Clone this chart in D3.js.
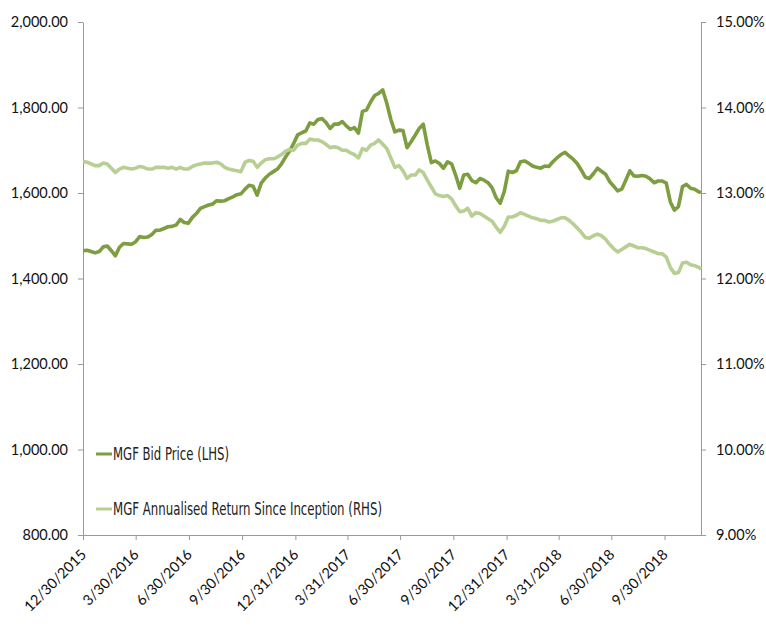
<!DOCTYPE html>
<html><head><meta charset="utf-8">
<script src="https://cdn.jsdelivr.net/npm/d3@7"></script>
<style>
body{margin:0;background:#fff;}
svg{display:block;}
.tick text{font-family:Lato,"Open Sans",sans-serif;font-size:14.5px;fill:#111;}
</style></head>
<body><svg id="c" width="766" height="627"></svg>
<script>
const dates = ["2015-12-30",
"2016-01-06","2016-01-13","2016-01-20","2016-01-27","2016-02-03","2016-02-10","2016-02-17","2016-02-24",
"2016-03-02","2016-03-09","2016-03-16","2016-03-23","2016-03-30","2016-04-06","2016-04-13","2016-04-20","2016-04-27",
"2016-05-04","2016-05-11","2016-05-18","2016-05-25","2016-06-01","2016-06-08","2016-06-15","2016-06-22","2016-06-29",
"2016-07-06","2016-07-13","2016-07-20","2016-07-27","2016-08-03","2016-08-10","2016-08-17","2016-08-24","2016-08-31",
"2016-09-07","2016-09-14","2016-09-21","2016-09-28","2016-10-05","2016-10-12","2016-10-19","2016-10-26",
"2016-11-02","2016-11-09","2016-11-16","2016-11-23","2016-11-30","2016-12-07","2016-12-14","2016-12-21","2016-12-28",
"2017-01-04","2017-01-11","2017-01-18","2017-01-25","2017-02-01","2017-02-08","2017-02-15","2017-02-22",
"2017-03-01","2017-03-08","2017-03-15","2017-03-22","2017-03-29","2017-04-05","2017-04-12","2017-04-19","2017-04-26",
"2017-05-03","2017-05-10","2017-05-17","2017-05-24","2017-05-31","2017-06-07","2017-06-14","2017-06-21","2017-06-28",
"2017-07-05","2017-07-12","2017-07-19","2017-07-26","2017-08-02","2017-08-09","2017-08-16","2017-08-23","2017-08-30",
"2017-09-06","2017-09-13","2017-09-20","2017-09-27","2017-10-04","2017-10-11","2017-10-18","2017-10-25",
"2017-11-01","2017-11-08","2017-11-15","2017-11-22","2017-11-29","2017-12-06","2017-12-13","2017-12-20","2017-12-27",
"2018-01-03","2018-01-10","2018-01-17","2018-01-24","2018-01-31","2018-02-07","2018-02-14","2018-02-21","2018-02-28",
"2018-03-07","2018-03-14","2018-03-21","2018-03-28","2018-04-04","2018-04-11","2018-04-18","2018-04-25",
"2018-05-02","2018-05-09","2018-05-16","2018-05-23","2018-05-30","2018-06-06","2018-06-13","2018-06-20","2018-06-27",
"2018-07-04","2018-07-11","2018-07-18","2018-07-25","2018-08-01","2018-08-08","2018-08-15","2018-08-22","2018-08-29",
"2018-09-05","2018-09-12","2018-09-19","2018-09-26","2018-10-03","2018-10-10","2018-10-17","2018-10-24","2018-10-31",
"2018-11-07","2018-11-14","2018-11-21","2018-11-28","2018-12-02"];

const bidPrice = [1465,1466,1463,1460,1463,1474,1476,1465,1453,1473,
1482,1481,1480,1486,1498,1496,1497,1503,1513,1513,
1517,1521,1522,1525,1538,1531,1529,1543,1552,1564,
1568,1572,1574,1582,1581,1582,1587,1591,1596,1598,
1609,1618,1616,1595,1623,1635,1644,1650,1656,1668,
1684,1698,1716,1736,1741,1745,1764,1761,1772,1774,
1765,1751,1761,1761,1767,1757,1749,1753,1740,1791,
1794,1813,1828,1833,1841,1810,1772,1743,1747,1746,
1706,1720,1735,1751,1761,1712,1671,1675,1669,1658,
1673,1668,1642,1611,1642,1644,1629,1624,1634,1630,
1624,1612,1589,1576,1603,1651,1648,1652,1673,1675,
1670,1663,1660,1658,1663,1662,1673,1682,1690,1695,
1687,1679,1669,1654,1637,1634,1645,1658,1651,1644,
1627,1616,1605,1609,1630,1652,1640,1639,1641,1639,
1633,1624,1628,1628,1623,1579,1560,1568,1615,1620,
1611,1609,1603,1601];

const annualisedReturn = [13.37,13.36,13.34,13.32,13.32,13.35,13.34,13.29,13.24,13.28,
13.30,13.29,13.28,13.29,13.31,13.30,13.28,13.28,13.30,13.30,
13.30,13.29,13.30,13.28,13.30,13.28,13.28,13.31,13.33,13.34,
13.35,13.35,13.35,13.36,13.34,13.30,13.28,13.27,13.26,13.25,
13.36,13.38,13.37,13.30,13.35,13.39,13.40,13.40,13.42,13.45,
13.49,13.51,13.50,13.56,13.58,13.58,13.63,13.62,13.62,13.60,
13.57,13.53,13.54,13.53,13.50,13.50,13.47,13.45,13.41,13.52,
13.50,13.56,13.58,13.62,13.57,13.52,13.41,13.30,13.32,13.26,
13.17,13.21,13.21,13.27,13.24,13.15,13.07,12.99,12.97,12.96,
12.97,12.93,12.85,12.78,12.79,12.82,12.73,12.77,12.76,12.73,
12.70,12.67,12.60,12.54,12.61,12.72,12.72,12.74,12.77,12.75,
12.73,12.71,12.70,12.68,12.68,12.66,12.67,12.69,12.71,12.71,
12.68,12.64,12.59,12.54,12.48,12.47,12.50,12.52,12.50,12.46,
12.40,12.35,12.31,12.34,12.37,12.40,12.38,12.36,12.36,12.35,
12.33,12.31,12.29,12.29,12.25,12.13,12.06,12.07,12.18,12.19,
12.16,12.15,12.13,12.11];

const xTickDates = ["2015-12-30","2016-03-30","2016-06-30","2016-09-30","2016-12-31","2017-03-31",
"2017-06-30","2017-09-30","2017-12-31","2018-03-31","2018-06-30","2018-09-30"];
const leftTicks = [800,1000,1200,1400,1600,1800,2000];
const rightTicks = [9,10,11,12,13,14,15];
const seriesNames = ["MGF Bid Price (LHS)","MGF Annualised Return Since Inception (RHS)"];
const seriesColors = ["#7d9e40","#b8cf93"];

const parse = d3.timeParse("%Y-%m-%d");
const svg = d3.select("#c");
const L = 83, R = 701, T = 22, B = 535;

const x = d3.scaleTime().domain([parse("2015-12-30"), parse("2018-12-02")]).range([L, R]);
const yL = d3.scaleLinear().domain([800, 2000]).range([B, T]);
const yR = d3.scaleLinear().domain([9, 15]).range([B, T]);

const axisColor = "#999";
const fmtDate = d => (d.getMonth()+1) + "/" + d.getDate() + "/" + d.getFullYear();

// left axis
const gl = svg.append("g").attr("transform", `translate(${L},0)`)
  .call(d3.axisLeft(yL).tickValues(leftTicks).tickFormat(d3.format(",.2f")).tickSize(5).tickSizeOuter(0).tickPadding(10));
// right axis
const gr = svg.append("g").attr("transform", `translate(${R},0)`)
  .call(d3.axisRight(yR).tickValues(rightTicks).tickFormat(d => d.toFixed(2) + "%").tickSize(5).tickSizeOuter(0).tickPadding(10));
// bottom axis
const gb = svg.append("g").attr("transform", `translate(0,${B})`)
  .call(d3.axisBottom(x).tickValues(xTickDates.map(parse)).tickFormat(fmtDate).tickSize(5).tickSizeOuter(0));
gb.selectAll(".tick text")
  .attr("text-anchor", "end")
  .attr("x", 0).attr("y", 0).attr("dx", 0).attr("dy", "0.35em")
  .attr("transform", "translate(0,17) rotate(-45)");

[gl, gr, gb].forEach(g => {
  g.selectAll("path.domain").attr("stroke", axisColor);
  g.selectAll(".tick line").attr("stroke", axisColor);
});

const pts = dates.map(parse);
const line1 = d3.line().x((d, i) => x(pts[i])).y(d => yL(d));
const line2 = d3.line().x((d, i) => x(pts[i])).y(d => yR(d));

svg.append("path").datum(bidPrice).attr("d", line1)
  .attr("fill", "none").attr("stroke", seriesColors[0]).attr("stroke-width", 3.6).attr("stroke-linejoin", "round");
svg.append("path").datum(annualisedReturn).attr("d", line2)
  .attr("fill", "none").attr("stroke", seriesColors[1]).attr("stroke-width", 3.6).attr("stroke-linejoin", "round");

// legend
const legY = [454, 509];
const legW = [116, 269];
seriesNames.forEach((n, i) => {
  svg.append("line").attr("x1", 96).attr("x2", 112).attr("y1", legY[i]).attr("y2", legY[i])
    .attr("stroke", seriesColors[i]).attr("stroke-width", 3);
  svg.append("text").attr("x", 113).attr("y", legY[i]).attr("dy", "0.35em")
    .attr("font-family", "'DejaVu Sans Condensed','DejaVu Sans',sans-serif")
    .attr("font-size", 17).attr("fill", "#222")
    .attr("textLength", legW[i]).attr("lengthAdjust", "spacingAndGlyphs")
    .text(n);
});
</script></body></html>
